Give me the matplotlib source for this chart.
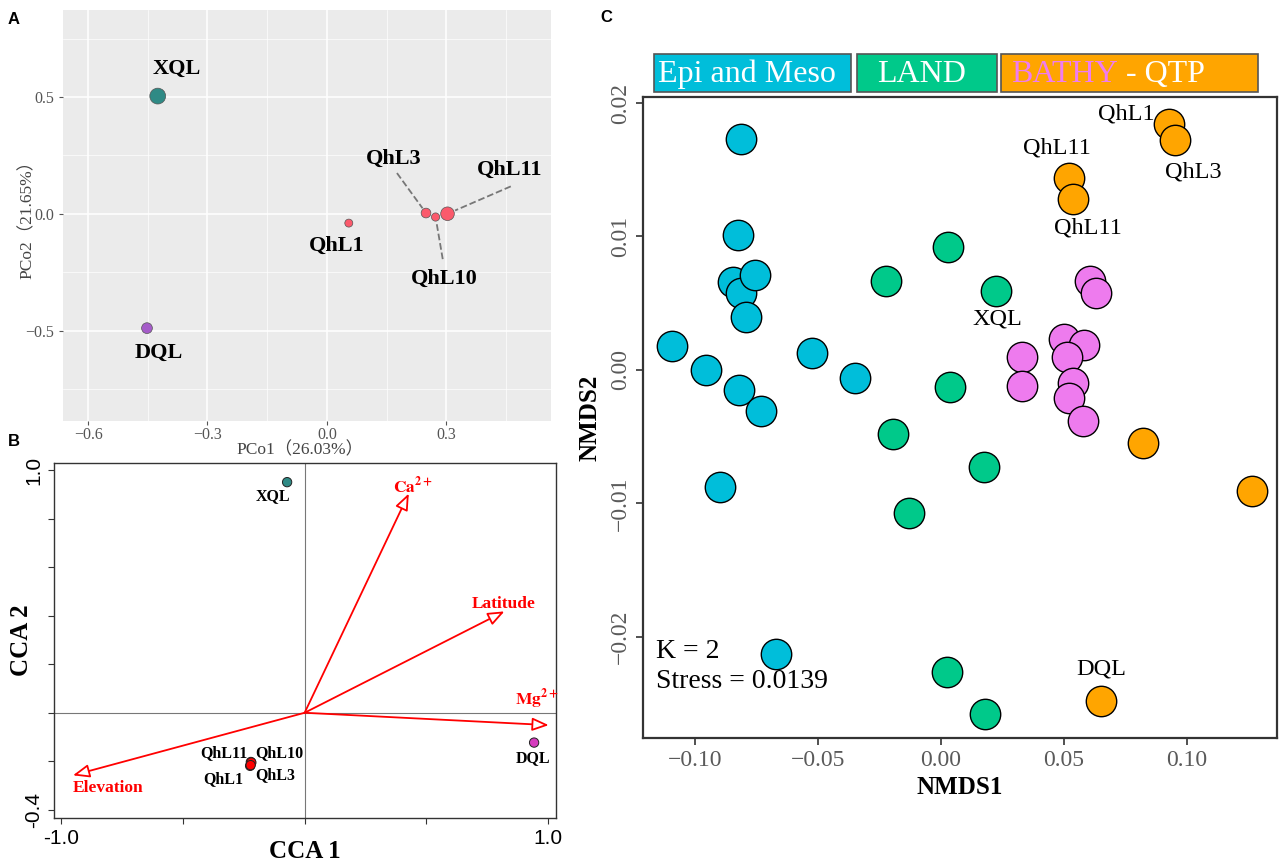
import matplotlib.pyplot as plt
from matplotlib.patches import Rectangle
from matplotlib.ticker import FixedLocator

plt.rcParams['font.family'] = ['Liberation Serif', 'Noto Sans CJK SC', 'DejaVu Sans']
plt.rcParams['mathtext.fontset'] = 'stix'
plt.rcParams['axes.unicode_minus'] = True

# ---- panel A: PCoA ----
a_names = ['XQL', 'DQL', 'QhL1', 'QhL3', 'QhL10', 'QhL11']
a_pco1 = [-0.425, -0.452, 0.055, 0.249, 0.273, 0.303]
a_pco2 = [0.504, -0.488, -0.039, 0.004, -0.013, 0.001]
a_size = [130, 60, 33, 49, 35, 96]
a_colors = ['#2F8A85', '#A55CC9', '#FB5A6C', '#FB5A6C', '#FB5A6C', '#FB5A6C']

# ---- panel B: CCA ----
b_names = ['XQL', 'DQL', 'QhL11', 'QhL10', 'QhL1', 'QhL3']
b_cca1 = [-0.072, 0.943, -0.221, -0.219, -0.224, -0.222]
b_cca2 = [0.951, -0.123, -0.203, -0.205, -0.219, -0.216]
b_colors = ['#2F8A85', '#D63BBE', '#FF0000', '#FF0000', '#FF0000', '#FF0000']
env_names = [r'$\mathbf{Ca^{2+}}$', 'Latitude', r'$\mathbf{Mg^{2+}}$', 'Elevation']
env_cca1 = [0.428, 0.821, 1.003, -0.952]
env_cca2 = [0.904, 0.418, -0.051, -0.258]

# ---- panel C: NMDS ----
epi_x = [-0.0813, -0.0825, -0.0846, -0.0813, -0.0756, -0.0793, -0.1093, -0.0955,
         -0.0821, -0.0732, -0.0524, -0.0350, -0.0898, -0.0671]
epi_y = [0.0173, 0.0101, 0.0066, 0.0058, 0.0071, 0.0040, 0.0018, 0.0000,
         -0.0015, -0.0031, 0.0013, -0.0006, -0.0088, -0.0213]
land_x = [0.0028, -0.0224, 0.0224, 0.0037, -0.0195, 0.0175, -0.0130, 0.0024, 0.0179]
land_y = [0.0092, 0.0067, 0.0059, -0.0013, -0.0048, -0.0073, -0.0107, -0.0226, -0.0258]
bathy_x = [0.0606, 0.0630, 0.0500, 0.0581, 0.0329, 0.0512, 0.0329, 0.0537, 0.0520, 0.0577]
bathy_y = [0.0067, 0.0058, 0.0023, 0.0019, 0.0010, 0.0010, -0.0012, -0.0010, -0.0021, -0.0038]
qtp_x = [0.0927, 0.0951, 0.0520, 0.0537, 0.0821, 0.1264, 0.0650]
qtp_y = [0.0184, 0.0172, 0.0144, 0.0128, -0.0055, -0.0091, -0.0248]
groups = ['Epi and Meso', 'LAND', 'BATHY', ' - QTP']

W, H = 1280, 866
fig = plt.figure(figsize=(12.8, 8.66), dpi=100)


def box(l, t, r, b):
    return [l / W, 1 - b / H, (r - l) / W, (b - t) / H]


# ================= A =================
ax = fig.add_axes(box(63, 10, 551, 421))
ax.set_facecolor('#EBEBEB')
for s in ax.spines.values():
    s.set_visible(False)
ax.set_xlim(-0.663, 0.563)
ax.set_ylim(-0.885, 0.872)
ax.xaxis.set_major_locator(FixedLocator([-0.6, -0.3, 0.0, 0.3]))
ax.xaxis.set_minor_locator(FixedLocator([-0.45, -0.15, 0.15, 0.45]))
ax.yaxis.set_major_locator(FixedLocator([-0.5, 0.0, 0.5]))
ax.yaxis.set_minor_locator(FixedLocator([-0.75, -0.25, 0.25, 0.75]))
ax.grid(which='major', color='white', lw=1.1)
ax.grid(which='minor', color='white', lw=0.5)
ax.set_axisbelow(True)
ax.tick_params(which='major', length=3, color='#555555', labelsize=11.5, labelcolor='#555555')
ax.tick_params(axis='x', pad=1.5)
ax.tick_params(which='minor', length=0)
ax.xaxis.set_major_formatter(plt.FuncFormatter(lambda v, p: f'{v:.1f}'.replace('-', '\u2212')))
ax.yaxis.set_major_formatter(plt.FuncFormatter(lambda v, p: f'{v:.1f}'.replace('-', '\u2212')))
ax.scatter(a_pco1, a_pco2, s=a_size, c=a_colors, edgecolors='#555555', linewidths=0.5, zorder=3)
a_lab = {'XQL': (-0.377, 0.62), 'DQL': (-0.423, -0.595), 'QhL1': (0.025, -0.138),
         'QhL3': (0.169, 0.235), 'QhL11': (0.459, 0.19), 'QhL10': (0.295, -0.278)}
for n, (tx, ty) in a_lab.items():
    ax.text(tx, ty, n, fontsize=16, fontweight='bold', ha='center', va='center')
# leader lines
leaders = {'QhL3': (0.176, 0.175), 'QhL11': (0.462, 0.118), 'QhL10': (0.291, -0.193)}
for n, (sx, sy) in leaders.items():
    i = a_names.index(n)
    px, py = a_pco1[i], a_pco2[i]
    ex = px + (sx - px) * 0.12
    ey = py + (sy - py) * 0.12
    ax.plot([sx, ex], [sy, ey], ls='--', color='#777777', lw=1.3, zorder=2)
fig.text(300 / W, 1 - 450 / H, 'PCo1（26.03%）', fontsize=12.5, color='#444444',
         ha='center', va='center')
fig.text(28 / W, 1 - 215 / H, 'PCo2（21.65%）', fontsize=12.5, color='#444444',
         ha='center', va='center', rotation=90)

# ================= B =================
bx = fig.add_axes(box(54, 463, 556, 818))
bx.set_xlim(-1.03, 1.033)
bx.set_ylim(-0.434, 1.03)
bx.axhline(0, color='#777777', lw=0.8)
bx.axvline(0, color='#777777', lw=0.8)
for s in bx.spines.values():
    s.set_linewidth(1.0)
    s.set_color('#333333')
bx.set_xticks([-1.0, -0.5, 0.0, 0.5, 1.0])
bx.set_xticklabels(['-1.0', '', '', '', '1.0'], family='Liberation Sans', fontsize=15)
bx.set_yticks([-0.4, -0.2, 0.0, 0.2, 0.4, 0.6, 0.8, 1.0])
bx.set_yticklabels(['-0.4', '', '', '', '', '', '', '1.0'], family='Liberation Sans',
                   fontsize=15, rotation=90, va='center')
bx.tick_params(length=4, width=0.8, color='#333333', pad=4)
for x, y, n in zip(env_cca1, env_cca2, env_names):
    bx.annotate('', xy=(x, y), xytext=(0, 0),
                arrowprops=dict(arrowstyle='-|>,head_length=1.0,head_width=0.4',
                                edgecolor='red', facecolor='white', lw=1.3,
                                shrinkA=0, shrinkB=0))
env_lab = [(0.443, 0.934), (0.816, 0.448), (0.955, 0.055), (-0.806, -0.312)]
for n, (tx, ty) in zip(env_names, env_lab):
    bx.text(tx, ty, n, color='red', fontsize=12.5, fontweight='bold', ha='center', va='center')
bx.scatter(b_cca1, b_cca2, s=45, c=b_colors, edgecolors='#222222', linewidths=0.7, zorder=4)
b_lab = [(-0.131, 0.893), (0.94, -0.185), (-0.333, -0.167), (-0.104, -0.167),
         (-0.333, -0.274), (-0.121, -0.258)]
for n, (tx, ty) in zip(b_names, b_lab):
    bx.text(tx, ty, n, fontsize=11.5, fontweight='bold', ha='center', va='center')
fig.text(305 / W, 1 - 852 / H, 'CCA 1', fontsize=18, fontweight='bold', ha='center', va='center')
fig.text(22 / W, 1 - 640 / H, 'CCA 2', fontsize=18, fontweight='bold', ha='center',
         va='center', rotation=90)

# ================= C =================
cx = fig.add_axes(box(643, 97, 1277, 738))
cx.set_xlim(-0.1211, 0.1366)
cx.set_ylim(-0.02757, 0.02045)
for s in cx.spines.values():
    s.set_linewidth(1.6)
    s.set_color('#333333')
cx.set_xticks([-0.10, -0.05, 0.0, 0.05, 0.10])
cx.set_yticks([-0.02, -0.01, 0.0, 0.01, 0.02])
fmt2 = plt.FuncFormatter(lambda v, p: f'{v:.2f}'.replace('-', '\u2212'))
cx.xaxis.set_major_formatter(fmt2)
cx.yaxis.set_major_formatter(fmt2)
cx.tick_params(length=5, width=1.2, color='#333333', labelsize=17, labelcolor='#5A5A5A')
for lbl in cx.get_yticklabels():
    lbl.set_rotation(90)
    lbl.set_va('center')
ms = 480
cx.scatter(epi_x, epi_y, s=ms, c='#00BEDA', edgecolors='black', linewidths=1.0, zorder=3)
cx.scatter(land_x, land_y, s=ms, c='#00C98A', edgecolors='black', linewidths=1.0, zorder=3)
cx.scatter(bathy_x, bathy_y, s=ms, c='#EE7BEE', edgecolors='black', linewidths=1.0, zorder=3)
cx.scatter(qtp_x, qtp_y, s=ms, c='#FFA500', edgecolors='black', linewidths=1.0, zorder=3)
c_lab = [('QhL1', 0.0752, 0.0192), ('QhL11', 0.0472, 0.0166), ('QhL3', 0.1024, 0.0148),
         ('QhL11', 0.0598, 0.0106), ('XQL', 0.0228, 0.0038), ('DQL', 0.0650, -0.0224)]
for n, tx, ty in c_lab:
    cx.text(tx, ty, n, fontsize=17.5, ha='center', va='center', zorder=4)
cx.text(0.02, 0.135, 'K = 2', transform=cx.transAxes, fontsize=20, va='center')
cx.text(0.02, 0.088, 'Stress = 0.0139', transform=cx.transAxes, fontsize=20, va='center')
cx.set_xlabel('NMDS1', fontsize=18, fontweight='bold', labelpad=4)
cx.set_ylabel('NMDS2', fontsize=18, fontweight='bold', labelpad=6)

# group boxes above panel C
boxes = [(654, 851, '#00BEDA'), (857, 997, '#00C98A'), (1001, 1258, '#FFA500')]
for l, r, col in boxes:
    fig.add_artist(Rectangle((l / W, 1 - 92 / H), (r - l) / W, 38 / H,
                             transform=fig.transFigure, facecolor=col,
                             edgecolor='#555555', lw=1.2))
base = 1 - 82 / H
fig.text(658 / W, base, groups[0], color='white', fontsize=23, va='baseline')
fig.text(877 / W, base, groups[1], color='white', fontsize=23, va='baseline')
t1 = fig.text(1011 / W, base, groups[2], color='#F07CF0', fontsize=23, va='baseline')
fig.canvas.draw()
ext = t1.get_window_extent()
fig.text(ext.x1 / W, base, groups[3], color='white', fontsize=23, va='baseline')

# panel letters
for lt, x, y in [('A', 14, 20), ('B', 14, 442), ('C', 606, 18)]:
    fig.text(x / W, 1 - y / H, lt, family='Liberation Sans', fontweight='bold',
             fontsize=12, ha='center', va='center')

fig.savefig('out.png', dpi=100)
